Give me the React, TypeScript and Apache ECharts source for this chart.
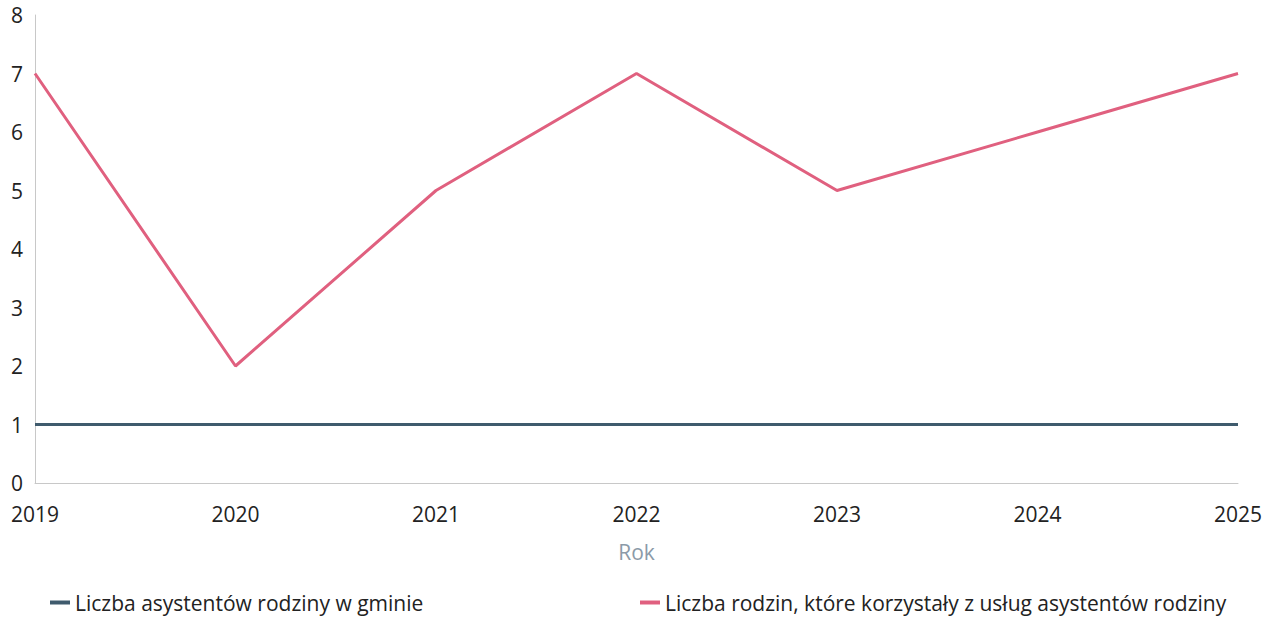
import React, { useEffect, useRef } from "react";
import * as echarts from "echarts";

const years = ["2019", "2020", "2021", "2022", "2023", "2024", "2025"];
const assistants = [1, 1, 1, 1, 1, 1, 1];
const families = [7, 2, 5, 7, 5, 6, 7];
const seriesNames = [
  "Liczba asystentów rodziny w gminie",
  "Liczba rodzin, które korzystały z usług asystentów rodziny",
];

export default function App() {
  const ref = useRef<HTMLDivElement>(null);
  useEffect(() => {
    if (!ref.current) return;
    const chart = echarts.init(ref.current, null, { renderer: "svg" });
    const font = "'Open Sans', sans-serif";
    chart.setOption({
      animation: false,
      textStyle: { fontFamily: font },
      grid: { left: 35, right: 33, top: 15, bottom: 135 },
      legend: [
        {
          data: [seriesNames[0]],
          left: 45,
          top: 587,
          icon: "rect",
          itemWidth: 20,
          itemHeight: 4,
          itemGap: 8,
          textStyle: { fontSize: 21, color: "#222", fontFamily: font },
        },
        {
          data: [seriesNames[1]],
          left: 635,
          top: 587,
          icon: "rect",
          itemWidth: 20,
          itemHeight: 4,
          textStyle: { fontSize: 21, color: "#222", fontFamily: font },
        },
      ],
      xAxis: {
        type: "category",
        data: years,
        boundaryGap: false,
        name: "Rok",
        nameLocation: "middle",
        nameGap: 58,
        nameTextStyle: { fontSize: 21, color: "#8b9aa8", fontFamily: font },
        axisLine: { lineStyle: { color: "#c8c8c8", width: 1 } },
        axisTick: { show: false },
        axisLabel: { fontSize: 21, color: "#222", margin: 20, fontFamily: font },
        splitLine: { show: false },
      },
      yAxis: {
        type: "value",
        min: 0,
        max: 8,
        interval: 1,
        axisLine: { show: true, lineStyle: { color: "#c8c8c8", width: 1 } },
        axisTick: { show: false },
        axisLabel: { fontSize: 21, color: "#222", margin: 12, fontFamily: font },
        splitLine: { show: false },
      },
      series: [
        {
          name: seriesNames[0],
          type: "line",
          data: assistants,
          symbol: "none",
          lineStyle: { color: "#3f5b6d", width: 3 },
          itemStyle: { color: "#3f5b6d" },
        },
        {
          name: seriesNames[1],
          type: "line",
          data: families,
          symbol: "none",
          lineStyle: { color: "#e0607f", width: 3 },
          itemStyle: { color: "#e0607f" },
        },
      ],
    });
    return () => chart.dispose();
  }, []);
  return <div ref={ref} style={{ width: 1271, height: 618, position: "absolute", left: 0, top: 0 }} />;
}
